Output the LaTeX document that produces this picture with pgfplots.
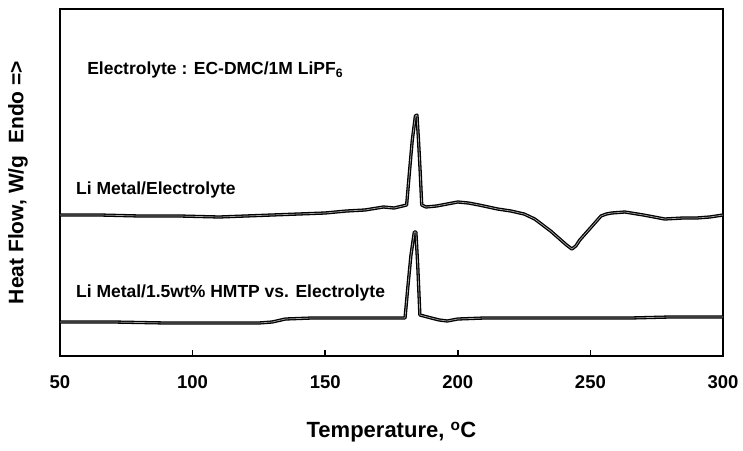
\documentclass[border=0pt]{standalone}
\usepackage{fontspec}
\setmainfont{Liberation Sans}
\usepackage{pgfplots}
\pgfplotsset{compat=1.18}
\begin{document}
\begin{tikzpicture}
\useasboundingbox (-60pt,-94pt) rectangle (683pt,356pt);
\begin{axis}[
  scale only axis,
  width=663pt, height=347pt,
  at={(0pt,0pt)}, anchor=south west,
  xmin=50, xmax=300, ymin=0, ymax=347,
  xtick={50,100,150,200,250,300},
  ytick=\empty,
  xtick pos=bottom,
  tick align=inside,
  major tick length=6pt,
  every tick/.style={black, line width=1.5pt},
  axis line style={line width=2.6pt},
  /pgf/number format/assume math mode=true,
  x tick label style={font=\fontsize{18.5}{20}\selectfont\bfseries, yshift=-16pt},
  xlabel={Temperature, \textsuperscript{o}C},
  ylabel={Heat Flow, W/g\ \ Endo =>},
  xlabel style={font=\fontsize{22}{24}\selectfont\bfseries, at={(axis description cs:0.5,-0.219)}, anchor=center},
  ylabel style={font=\fontsize{21}{23}\selectfont\bfseries, at={(axis description cs:-0.0633,0.5)}, anchor=center},
  clip=false,
]
\addplot[black, line width=1.3pt, double=black!35, double distance=0.7pt, line join=round] coordinates {
(50,141) (65,141) (80,140) (95,140) (110,139) (120,140) (130,141) (140,142) (150,143) (158,145) (165,146) (172,149) (176,148) (180.7,151)
(181.8,185) (182.8,215) (184.0,240) (184.6,241) (185.2,215) (185.8,185) (186.4,151) (188,149) (192,150) (196,152) (200,154) (204,153)
(208,151) (215,147) (220,145) (225,142) (229,137) (232,131) (235,125) (238,118) (241,111) (243,107) (244.5,110) (246,116) (248,122) (250,128) (252,134)
(254,140) (256,142) (258,143) (263,144) (270,141) (278,137) (285,138) (290,138) (295,139) (300,141)
};
\addplot[black, line width=1.3pt, double=black!35, double distance=0.7pt, line join=round] coordinates {
(50,34) (70,34) (90,33) (110,33) (125,33) (130,34) (135,37) (145,38) (160,38) (170,38) (180.1,38)
(181.2,70) (182.3,100) (183.6,124) (184.2,124) (184.9,90) (185.7,41) (190,38) (193,36) (196,35) (200,37) (210,38) (230,38) (250,38)
(265,38) (280,39) (300,39)
};
\node[anchor=west, inner sep=0pt, font=\fontsize{17.5}{19}\selectfont\bfseries] at (axis cs:60.2,286) {Electrolyte : EC-DMC/1M LiPF\textsubscript{6}};
\node[anchor=west, inner sep=0pt, font=\fontsize{17.5}{19}\selectfont\bfseries] at (axis cs:56,166) {Li Metal/Electrolyte};
\node[anchor=west, inner sep=0pt, font=\fontsize{17.5}{19}\selectfont\bfseries] at (axis cs:56,63) {Li Metal/1.5wt\% HMTP vs. Electrolyte};
\end{axis}
\end{tikzpicture}
\end{document}
